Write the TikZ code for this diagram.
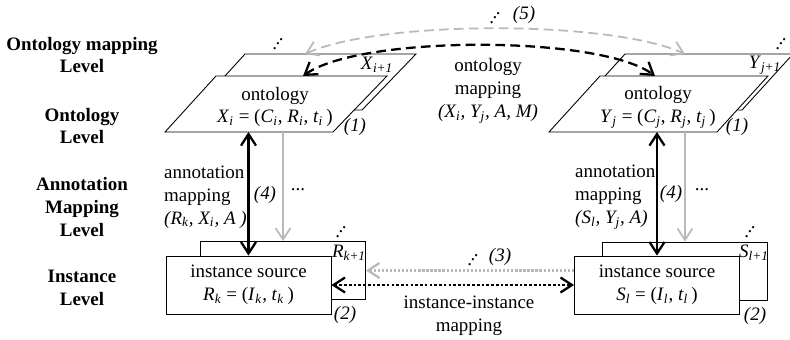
\documentclass[tikz,border=0pt]{standalone}
\usepackage{fontspec}
\setmainfont{Liberation Serif}
\usetikzlibrary{arrows.meta, positioning, calc}

\definecolor{mapgray}{RGB}{185,185,185}
\newcommand{\updots}{.\kern-0.08em\raisebox{0.24em}{.}\kern-0.08em\raisebox{0.48em}{.}}
\newcommand{\ix}[2]{\textit{#1}\textsubscript{\textit{#2}}}

\begin{document}
\begin{tikzpicture}[x=0.02cm, y=-0.02cm, font=\fontsize{10.8}{13}\selectfont,
    >={Straight Barb[length=2.3mm, width=3mm]},
    lvl/.style={font=\fontsize{10.8}{13}\selectfont\bfseries, align=center},
    plane/.style={draw, line width=0.5pt, fill=white},
    srcbox/.style={draw, line width=0.5pt, fill=white, minimum width=3.3cm,
      minimum height=1.16cm, inner sep=0pt, align=center},
    blk/.style={line width=1.3pt},
    gry/.style={line width=1pt, draw=mapgray},
    mapdash/.style={dash pattern=on 5.5pt off 3pt},
    dotsy/.style={inner sep=0pt}]
  \useasboundingbox (0,0) rectangle (790,339);

  % level names
  \node[lvl] (lvOM) at (82,55) {Ontology mapping\\Level};
  \node[lvl] (lvO) at (82,126) {Ontology\\Level};
  \node[lvl] (lvAM) at (82,207) {Annotation\\Mapping\\Level};
  \node[lvl] (lvI) at (82,288) {Instance\\Level};

  % ontologies
  \draw[plane] (245,54) -- (416,54) -- (362,110) -- (194,110) -- cycle;
  \draw[plane] (216,76) -- (387,76) -- (333,132) -- (165,132) -- cycle;
  \draw[plane] (625,54) -- (793,54) -- (742,110) -- (574,110) -- cycle;
  \draw[plane] (600,76) -- (768,76) -- (717,132) -- (549,132) -- cycle;

  \node[align=center] (ontX) at (275,107) {ontology\\\ix{X}{i} = (\ix{C}{i}, \ix{R}{i}, \ix{t}{i}\,)};
  \node[align=center] (ontY) at (658,107) {ontology\\\ix{Y}{j} = (\ix{C}{j}, \ix{R}{j}, \ix{t}{j}\,)};
  \node (nxtX) at (377,65) {\ix{X}{i+1}};
  \node (nxtY) at (765,65) {\ix{Y}{j+1}};
  \node[dotsy] (dotX) at (278,44) {\updots};
  \node[dotsy] (dotY) at (781,44) {\updots};
  \node (oneX) at (355,127) {\textit{(1)}};
  \node (oneY) at (737,127) {\textit{(1)}};

  \coordinate (topX) at (303,76);
  \coordinate (topY) at (655,76);
  \coordinate (topXn) at (305,54);
  \coordinate (topYn) at (685,54);
  \coordinate (botX) at (248.5,132);
  \coordinate (botY) at (657,132);

  % instance sources
  \node[srcbox] (backR) at (283,270.5) {};
  \node[srcbox] (srcR) at (248.5,285) {instance source\\\ix{R}{k} = (\ix{I}{k}, \ix{t}{k}\,)};
  \node[srcbox] (backS) at (685,271) {};
  \node[srcbox] (srcS) at (657,285) {instance source\\\ix{S}{l} = (\ix{I}{l}, \ix{t}{l}\,)};
  \node (nxtR) at (349,253) {\ix{R}{k+1}};
  \node (nxtS) at (754,253) {\ix{S}{l+1}};
  \node[dotsy] (dotR) at (341,232) {\updots};
  \node[dotsy] (dotS) at (750,232) {\updots};
  \node (twoR) at (345,315) {\textit{(2)}};
  \node (twoS) at (755,316) {\textit{(2)}};

  % ontology mapping
  \draw[gry, mapdash, <->] (topXn) .. controls (380,20) and (610,20) .. (topYn);
  \draw[blk, mapdash, <->] (topX) .. controls (360,35) and (600,35) .. (topY);
  \node[align=center] (omap) at (488,91) {ontology\\mapping\\\textit{(\ix{X}{i}, \ix{Y}{j}, A, M)}};
  \node[dotsy] (dotOM) at (495,18) {\updots};
  \node (fiveOM) at (524,15) {\textit{(5)}};

  % annotation mappings
  \draw[blk, <->] (botX) -- (srcR.north);
  \draw[gry, ->] (botX -| backR.north) -- (backR.north);
  \draw[blk, <->] (botY) -- (srcS.north);
  \draw[gry, ->] (botY -| backS.north) -- (backS.north);
  \node[anchor=west, align=left] (amX) at (158,197) {annotation\\mapping\\\textit{(\ix{R}{k}, \ix{X}{i}, A )}};
  \node[anchor=west, align=left] (amY) at (569,197) {annotation\\mapping\\\textit{(\ix{S}{l}, \ix{Y}{j}, A)}};
  \node (fourX) at (265,195) {\textit{(4)}};
  \node (fourY) at (671,194) {\textit{(4)}};
  \node[dotsy] (moreX) at (298,190) {...};
  \node[dotsy] (moreY) at (702,190) {...};

  % instance-instance mapping
  \draw[gry, line width=1.3pt, dash pattern=on 1.3pt off 1pt, ->] (backR.east -| srcS.west) -- (backR.east);
  \draw[blk, dash pattern=on 1.5pt off 1.2pt, <->] (srcR.east) -- (srcS.west);
  \node[dotsy] (dotII) at (473,260) {\updots};
  \node (threeII) at (500,257) {\textit{(3)}};
  \node[align=center] (iimap) at (469,316) {instance-instance\\mapping};
\end{tikzpicture}
\end{document}
